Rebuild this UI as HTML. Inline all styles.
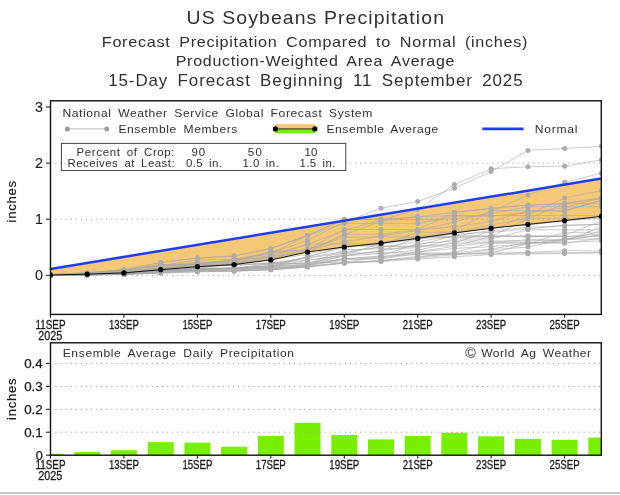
<!DOCTYPE html>
<html><head><meta charset="utf-8"><title>US Soybeans Precipitation</title>
<style>html,body{margin:0;padding:0;background:#fff}svg{display:block}</style>
</head><body>
<svg width="620" height="495" viewBox="0 0 620 495" font-family="'Liberation Sans', sans-serif">
<rect width="620" height="495" fill="#fff"/>
<text transform="translate(186.6,23.6) scale(1.08,1)" font-size="18.0" word-spacing="0.00" textLength="238.3" lengthAdjust="spacing" fill="#303030">US Soybeans Precipitation</text>
<text transform="translate(101.8,46.5) scale(1.08,1)" font-size="15.0" word-spacing="3.30" textLength="394.1" lengthAdjust="spacing" fill="#303030">Forecast Precipitation Compared to Normal (inches)</text>
<text transform="translate(175.7,66.1) scale(1.08,1)" font-size="14.8" word-spacing="3.26" textLength="258.1" lengthAdjust="spacing" fill="#303030">Production-Weighted Area Average</text>
<text transform="translate(108.2,86.3) scale(1.08,1)" font-size="15.7" word-spacing="3.45" textLength="383.7" lengthAdjust="spacing" fill="#303030">15-Day Forecast Beginning 11 September 2025</text>
<clipPath id="c1"><rect x="50.5" y="100.8" width="550.8" height="213.59999999999997"/></clipPath>
<g clip-path="url(#c1)">
<polygon fill="#f5c878" points="50.5,275.0 87.2,274.2 123.9,272.9 160.7,269.7 197.4,266.7 234.1,264.6 270.8,259.9 307.5,252.0 344.3,247.0 381.0,243.2 417.7,238.4 454.4,232.9 491.1,228.3 527.9,224.3 564.6,220.6 601.3,216.3 601.3,178.6 564.6,184.6 527.9,190.7 491.1,196.7 454.4,202.7 417.7,208.7 381.0,214.7 344.3,220.7 307.5,226.8 270.8,232.8 234.1,238.8 197.4,244.8 160.7,250.8 123.9,256.9 87.2,262.9 50.5,268.9"/>
<polyline fill="none" stroke="#a8a8a8" stroke-width="0.6" points="50.5,275.3 87.2,274.2 123.9,272.5 160.7,268.6 197.4,264.1 234.1,259.6 270.8,252.9 307.5,240.5 344.3,222.0 381.0,208.2 417.7,201.5 454.4,188.2 491.1,171.5 527.9,150.4 564.6,148.5 601.3,146.3"/>
<polyline fill="none" stroke="#a8a8a8" stroke-width="0.6" points="50.5,275.3 87.2,274.7 123.9,273.6 160.7,270.8 197.4,268.0 234.1,264.1 270.8,256.8 307.5,244.4 344.3,230.4 381.0,220.3 417.7,209.4 454.4,184.4 491.1,168.7 527.9,166.8 564.6,166.2 601.3,159.7"/>
<polyline fill="none" stroke="#a8a8a8" stroke-width="0.6" points="50.5,275.3 87.2,274.2 123.9,273.1 160.7,269.7 197.4,266.9 234.1,264.1 270.8,258.5 307.5,250.1 344.3,241.6 381.0,236.0 417.7,230.4 454.4,222.0 491.1,211.9 527.9,195.1 564.6,182.2 601.3,173.2"/>
<polyline fill="none" stroke="#a8a8a8" stroke-width="0.6" points="50.5,275.3 87.2,274.7 123.9,273.6 160.7,271.4 197.4,269.7 234.1,268.0 270.8,264.1 307.5,257.3 344.3,251.7 381.0,247.2 417.7,241.6 454.4,236.0 491.1,230.4 527.9,214.7 564.6,197.9 601.3,190.8"/>
<polyline fill="none" stroke="#a8a8a8" stroke-width="0.6" points="50.5,275.2 87.2,274.9 123.9,274.4 160.7,273.0 197.4,271.8 234.1,271.2 270.8,269.7 307.5,266.9 344.3,263.1 381.0,261.5 417.7,259.1 454.4,256.7 491.1,254.6 527.9,253.9 564.6,253.4 601.3,252.6"/>
<polyline fill="none" stroke="#a8a8a8" stroke-width="0.6" points="50.5,275.1 87.2,274.8 123.9,274.3 160.7,273.0 197.4,271.8 234.1,271.2 270.8,269.7 307.5,266.9 344.3,263.1 381.0,260.7 417.7,256.3 454.4,253.9 491.1,253.9 527.9,253.0 564.6,253.0 601.3,252.6"/>
<polyline fill="none" stroke="#a8a8a8" stroke-width="0.6" points="50.5,275.2 87.2,274.9 123.9,274.4 160.7,273.0 197.4,270.0 234.1,270.0 270.8,267.7 307.5,266.5 344.3,262.9 381.0,260.4 417.7,258.1 454.4,254.7 491.1,252.3 527.9,252.3 564.6,250.8 601.3,250.8"/>
<polyline fill="none" stroke="#a8a8a8" stroke-width="0.6" points="50.5,275.1 87.2,274.8 123.9,274.1 160.7,272.5 197.4,270.7 234.1,270.7 270.8,268.2 307.5,265.5 344.3,258.7 381.0,256.5 417.7,254.5 454.4,254.5 491.1,249.8 527.9,247.1 564.6,239.1 601.3,239.1"/>
<polyline fill="none" stroke="#a8a8a8" stroke-width="0.6" points="50.5,275.1 87.2,274.7 123.9,274.0 160.7,272.3 197.4,271.0 234.1,270.8 270.8,269.7 307.5,266.8 344.3,262.2 381.0,256.9 417.7,251.8 454.4,246.3 491.1,242.3 527.9,239.7 564.6,239.7 601.3,234.7"/>
<polyline fill="none" stroke="#a8a8a8" stroke-width="0.6" points="50.5,275.1 87.2,274.7 123.9,274.2 160.7,271.3 197.4,269.9 234.1,268.6 270.8,265.6 307.5,264.8 344.3,252.7 381.0,246.7 417.7,246.7 454.4,243.3 491.1,242.6 527.9,242.6 564.6,242.6 601.3,240.8"/>
<polyline fill="none" stroke="#a8a8a8" stroke-width="0.6" points="50.5,275.1 87.2,274.5 123.9,273.8 160.7,270.7 197.4,270.4 234.1,269.0 270.8,265.4 307.5,262.8 344.3,262.2 381.0,261.1 417.7,257.5 454.4,252.4 491.1,243.2 527.9,243.2 564.6,243.2 601.3,238.2"/>
<polyline fill="none" stroke="#a8a8a8" stroke-width="0.6" points="50.5,275.1 87.2,274.8 123.9,274.2 160.7,270.8 197.4,268.3 234.1,268.3 270.8,268.0 307.5,263.9 344.3,249.8 381.0,248.8 417.7,247.8 454.4,239.0 491.1,239.0 527.9,229.8 564.6,229.8 601.3,229.8"/>
<polyline fill="none" stroke="#a8a8a8" stroke-width="0.6" points="50.5,275.1 87.2,274.3 123.9,273.1 160.7,270.4 197.4,270.4 234.1,270.4 270.8,269.0 307.5,266.0 344.3,259.8 381.0,258.2 417.7,252.1 454.4,248.5 491.1,246.6 527.9,243.6 564.6,239.3 601.3,231.3"/>
<polyline fill="none" stroke="#a8a8a8" stroke-width="0.6" points="50.5,275.1 87.2,274.6 123.9,274.2 160.7,271.3 197.4,267.9 234.1,267.9 270.8,266.6 307.5,264.8 344.3,259.0 381.0,255.9 417.7,243.5 454.4,241.0 491.1,241.0 527.9,241.0 564.6,240.2 601.3,235.0"/>
<polyline fill="none" stroke="#a8a8a8" stroke-width="0.6" points="50.5,275.1 87.2,274.6 123.9,274.2 160.7,269.3 197.4,266.1 234.1,265.2 270.8,263.5 307.5,263.5 344.3,258.9 381.0,258.9 417.7,253.7 454.4,253.7 491.1,253.0 527.9,243.8 564.6,232.3 601.3,232.3"/>
<polyline fill="none" stroke="#a8a8a8" stroke-width="0.6" points="50.5,275.1 87.2,274.5 123.9,273.2 160.7,271.4 197.4,270.3 234.1,269.9 270.8,268.7 307.5,265.4 344.3,255.7 381.0,250.7 417.7,237.8 454.4,237.6 491.1,236.6 527.9,236.6 564.6,236.6 601.3,236.6"/>
<polyline fill="none" stroke="#a8a8a8" stroke-width="0.6" points="50.5,275.1 87.2,274.5 123.9,272.8 160.7,268.8 197.4,264.7 234.1,264.4 270.8,263.5 307.5,258.0 344.3,253.0 381.0,253.0 417.7,253.0 454.4,253.0 491.1,248.9 527.9,243.2 564.6,241.2 601.3,227.0"/>
<polyline fill="none" stroke="#a8a8a8" stroke-width="0.6" points="50.5,275.0 87.2,274.1 123.9,272.3 160.7,269.8 197.4,269.8 234.1,267.8 270.8,266.0 307.5,256.5 344.3,247.7 381.0,242.2 417.7,236.6 454.4,236.6 491.1,236.6 527.9,236.6 564.6,236.6 601.3,233.9"/>
<polyline fill="none" stroke="#a8a8a8" stroke-width="0.6" points="50.5,274.9 87.2,273.8 123.9,271.8 160.7,270.0 197.4,268.7 234.1,268.7 270.8,267.3 307.5,260.1 344.3,255.5 381.0,251.0 417.7,245.3 454.4,235.7 491.1,235.7 527.9,235.7 564.6,235.7 601.3,220.8"/>
<polyline fill="none" stroke="#a8a8a8" stroke-width="0.6" points="50.5,274.9 87.2,273.9 123.9,272.4 160.7,268.6 197.4,266.0 234.1,265.5 270.8,262.7 307.5,260.4 344.3,254.9 381.0,243.5 417.7,237.5 454.4,234.2 491.1,232.3 527.9,229.1 564.6,225.0 601.3,224.3"/>
<polyline fill="none" stroke="#a8a8a8" stroke-width="0.6" points="50.5,274.9 87.2,273.9 123.9,272.8 160.7,270.1 197.4,269.0 234.1,268.8 270.8,263.1 307.5,263.1 344.3,255.9 381.0,253.6 417.7,250.0 454.4,242.8 491.1,230.9 527.9,227.4 564.6,225.9 601.3,224.1"/>
<polyline fill="none" stroke="#a8a8a8" stroke-width="0.6" points="50.5,274.9 87.2,273.7 123.9,272.3 160.7,269.6 197.4,268.7 234.1,268.5 270.8,267.0 307.5,257.0 344.3,245.9 381.0,244.9 417.7,232.1 454.4,232.1 491.1,224.9 527.9,218.2 564.6,218.2 601.3,218.2"/>
<polyline fill="none" stroke="#a8a8a8" stroke-width="0.6" points="50.5,274.9 87.2,273.7 123.9,271.1 160.7,268.0 197.4,263.1 234.1,263.1 270.8,259.8 307.5,254.2 344.3,246.0 381.0,246.0 417.7,246.0 454.4,246.0 491.1,236.4 527.9,218.7 564.6,203.6 601.3,203.6"/>
<polyline fill="none" stroke="#a8a8a8" stroke-width="0.6" points="50.5,275.0 87.2,274.1 123.9,273.0 160.7,266.4 197.4,262.2 234.1,262.2 270.8,255.3 307.5,244.1 344.3,243.8 381.0,243.8 417.7,239.5 454.4,233.4 491.1,227.2 527.9,225.2 564.6,220.6 601.3,218.2"/>
<polyline fill="none" stroke="#a8a8a8" stroke-width="0.6" points="50.5,274.9 87.2,273.3 123.9,270.9 160.7,264.7 197.4,264.7 234.1,263.6 270.8,255.9 307.5,252.6 344.3,234.2 381.0,234.2 417.7,229.9 454.4,226.8 491.1,221.3 527.9,211.0 564.6,211.0 601.3,200.0"/>
<polyline fill="none" stroke="#a8a8a8" stroke-width="0.6" points="50.5,274.8 87.2,273.9 123.9,271.6 160.7,268.0 197.4,265.2 234.1,261.1 270.8,251.3 307.5,250.3 344.3,234.9 381.0,221.3 417.7,216.7 454.4,215.5 491.1,215.5 527.9,215.5 564.6,215.5 601.3,215.5"/>
<polyline fill="none" stroke="#a8a8a8" stroke-width="0.6" points="50.5,274.7 87.2,273.4 123.9,270.3 160.7,264.6 197.4,264.2 234.1,259.5 270.8,257.3 307.5,249.3 344.3,237.3 381.0,236.9 417.7,236.9 454.4,231.0 491.1,210.7 527.9,210.7 564.6,210.7 601.3,200.4"/>
<polyline fill="none" stroke="#a8a8a8" stroke-width="0.6" points="50.5,274.6 87.2,272.7 123.9,269.9 160.7,266.0 197.4,263.9 234.1,261.2 270.8,253.3 307.5,235.6 344.3,219.3 381.0,219.3 417.7,219.3 454.4,219.1 491.1,213.6 527.9,206.7 564.6,206.7 601.3,206.7"/>
<polyline fill="none" stroke="#a8a8a8" stroke-width="0.6" points="50.5,274.7 87.2,272.8 123.9,269.9 160.7,262.5 197.4,258.0 234.1,256.0 270.8,248.6 307.5,235.6 344.3,223.4 381.0,223.4 417.7,223.4 454.4,216.2 491.1,216.2 527.9,212.7 564.6,207.6 601.3,198.0"/>
<polyline fill="none" stroke="#a8a8a8" stroke-width="0.6" points="50.5,274.7 87.2,273.4 123.9,270.4 160.7,265.6 197.4,260.1 234.1,259.4 270.8,252.8 307.5,249.7 344.3,229.5 381.0,229.5 417.7,229.5 454.4,212.4 491.1,208.3 527.9,205.2 564.6,203.6 601.3,198.0"/>
<polyline fill="none" stroke="#a8a8a8" stroke-width="0.6" points="50.5,274.6 87.2,272.7 123.9,269.9 160.7,262.5 197.4,258.0 234.1,256.0 270.8,248.6 307.5,235.6 344.3,219.3 381.0,219.3 417.7,216.7 454.4,212.4 491.1,208.3 527.9,205.2 564.6,203.6 601.3,198.0"/>
<circle cx="50.5" cy="275.3" r="2.5" fill="#acacac"/>
<circle cx="87.2" cy="274.2" r="2.5" fill="#acacac"/>
<circle cx="123.9" cy="272.5" r="2.5" fill="#acacac"/>
<circle cx="160.7" cy="268.6" r="2.5" fill="#acacac"/>
<circle cx="197.4" cy="264.1" r="2.5" fill="#acacac"/>
<circle cx="234.1" cy="259.6" r="2.5" fill="#acacac"/>
<circle cx="270.8" cy="252.9" r="2.5" fill="#acacac"/>
<circle cx="307.5" cy="240.5" r="2.5" fill="#acacac"/>
<circle cx="344.3" cy="222.0" r="2.5" fill="#acacac"/>
<circle cx="381.0" cy="208.2" r="2.5" fill="#acacac"/>
<circle cx="417.7" cy="201.5" r="2.5" fill="#acacac"/>
<circle cx="454.4" cy="188.2" r="2.5" fill="#acacac"/>
<circle cx="491.1" cy="171.5" r="2.5" fill="#acacac"/>
<circle cx="527.9" cy="150.4" r="2.5" fill="#acacac"/>
<circle cx="564.6" cy="148.5" r="2.5" fill="#acacac"/>
<circle cx="601.3" cy="146.3" r="2.5" fill="#acacac"/>
<circle cx="50.5" cy="275.3" r="2.5" fill="#acacac"/>
<circle cx="87.2" cy="274.7" r="2.5" fill="#acacac"/>
<circle cx="123.9" cy="273.6" r="2.5" fill="#acacac"/>
<circle cx="160.7" cy="270.8" r="2.5" fill="#acacac"/>
<circle cx="197.4" cy="268.0" r="2.5" fill="#acacac"/>
<circle cx="234.1" cy="264.1" r="2.5" fill="#acacac"/>
<circle cx="270.8" cy="256.8" r="2.5" fill="#acacac"/>
<circle cx="307.5" cy="244.4" r="2.5" fill="#acacac"/>
<circle cx="344.3" cy="230.4" r="2.5" fill="#acacac"/>
<circle cx="381.0" cy="220.3" r="2.5" fill="#acacac"/>
<circle cx="417.7" cy="209.4" r="2.5" fill="#acacac"/>
<circle cx="454.4" cy="184.4" r="2.5" fill="#acacac"/>
<circle cx="491.1" cy="168.7" r="2.5" fill="#acacac"/>
<circle cx="527.9" cy="166.8" r="2.5" fill="#acacac"/>
<circle cx="564.6" cy="166.2" r="2.5" fill="#acacac"/>
<circle cx="601.3" cy="159.7" r="2.5" fill="#acacac"/>
<circle cx="50.5" cy="275.3" r="2.5" fill="#acacac"/>
<circle cx="87.2" cy="274.2" r="2.5" fill="#acacac"/>
<circle cx="123.9" cy="273.1" r="2.5" fill="#acacac"/>
<circle cx="160.7" cy="269.7" r="2.5" fill="#acacac"/>
<circle cx="197.4" cy="266.9" r="2.5" fill="#acacac"/>
<circle cx="234.1" cy="264.1" r="2.5" fill="#acacac"/>
<circle cx="270.8" cy="258.5" r="2.5" fill="#acacac"/>
<circle cx="307.5" cy="250.1" r="2.5" fill="#acacac"/>
<circle cx="344.3" cy="241.6" r="2.5" fill="#acacac"/>
<circle cx="381.0" cy="236.0" r="2.5" fill="#acacac"/>
<circle cx="417.7" cy="230.4" r="2.5" fill="#acacac"/>
<circle cx="454.4" cy="222.0" r="2.5" fill="#acacac"/>
<circle cx="491.1" cy="211.9" r="2.5" fill="#acacac"/>
<circle cx="527.9" cy="195.1" r="2.5" fill="#acacac"/>
<circle cx="564.6" cy="182.2" r="2.5" fill="#acacac"/>
<circle cx="601.3" cy="173.2" r="2.5" fill="#acacac"/>
<circle cx="50.5" cy="275.3" r="2.5" fill="#acacac"/>
<circle cx="87.2" cy="274.7" r="2.5" fill="#acacac"/>
<circle cx="123.9" cy="273.6" r="2.5" fill="#acacac"/>
<circle cx="160.7" cy="271.4" r="2.5" fill="#acacac"/>
<circle cx="197.4" cy="269.7" r="2.5" fill="#acacac"/>
<circle cx="234.1" cy="268.0" r="2.5" fill="#acacac"/>
<circle cx="270.8" cy="264.1" r="2.5" fill="#acacac"/>
<circle cx="307.5" cy="257.3" r="2.5" fill="#acacac"/>
<circle cx="344.3" cy="251.7" r="2.5" fill="#acacac"/>
<circle cx="381.0" cy="247.2" r="2.5" fill="#acacac"/>
<circle cx="417.7" cy="241.6" r="2.5" fill="#acacac"/>
<circle cx="454.4" cy="236.0" r="2.5" fill="#acacac"/>
<circle cx="491.1" cy="230.4" r="2.5" fill="#acacac"/>
<circle cx="527.9" cy="214.7" r="2.5" fill="#acacac"/>
<circle cx="564.6" cy="197.9" r="2.5" fill="#acacac"/>
<circle cx="601.3" cy="190.8" r="2.5" fill="#acacac"/>
<circle cx="50.5" cy="275.2" r="2.5" fill="#acacac"/>
<circle cx="87.2" cy="274.9" r="2.5" fill="#acacac"/>
<circle cx="123.9" cy="274.4" r="2.5" fill="#acacac"/>
<circle cx="160.7" cy="273.0" r="2.5" fill="#acacac"/>
<circle cx="197.4" cy="271.8" r="2.5" fill="#acacac"/>
<circle cx="234.1" cy="271.2" r="2.5" fill="#acacac"/>
<circle cx="270.8" cy="269.7" r="2.5" fill="#acacac"/>
<circle cx="307.5" cy="266.9" r="2.5" fill="#acacac"/>
<circle cx="344.3" cy="263.1" r="2.5" fill="#acacac"/>
<circle cx="381.0" cy="261.5" r="2.5" fill="#acacac"/>
<circle cx="417.7" cy="259.1" r="2.5" fill="#acacac"/>
<circle cx="454.4" cy="256.7" r="2.5" fill="#acacac"/>
<circle cx="491.1" cy="254.6" r="2.5" fill="#acacac"/>
<circle cx="527.9" cy="253.9" r="2.5" fill="#acacac"/>
<circle cx="564.6" cy="253.4" r="2.5" fill="#acacac"/>
<circle cx="601.3" cy="252.6" r="2.5" fill="#acacac"/>
<circle cx="50.5" cy="275.1" r="2.5" fill="#acacac"/>
<circle cx="87.2" cy="274.8" r="2.5" fill="#acacac"/>
<circle cx="123.9" cy="274.3" r="2.5" fill="#acacac"/>
<circle cx="160.7" cy="273.0" r="2.5" fill="#acacac"/>
<circle cx="197.4" cy="271.8" r="2.5" fill="#acacac"/>
<circle cx="234.1" cy="271.2" r="2.5" fill="#acacac"/>
<circle cx="270.8" cy="269.7" r="2.5" fill="#acacac"/>
<circle cx="307.5" cy="266.9" r="2.5" fill="#acacac"/>
<circle cx="344.3" cy="263.1" r="2.5" fill="#acacac"/>
<circle cx="381.0" cy="260.7" r="2.5" fill="#acacac"/>
<circle cx="417.7" cy="256.3" r="2.5" fill="#acacac"/>
<circle cx="454.4" cy="253.9" r="2.5" fill="#acacac"/>
<circle cx="491.1" cy="253.9" r="2.5" fill="#acacac"/>
<circle cx="527.9" cy="253.0" r="2.5" fill="#acacac"/>
<circle cx="564.6" cy="253.0" r="2.5" fill="#acacac"/>
<circle cx="601.3" cy="252.6" r="2.5" fill="#acacac"/>
<circle cx="50.5" cy="275.2" r="2.5" fill="#acacac"/>
<circle cx="87.2" cy="274.9" r="2.5" fill="#acacac"/>
<circle cx="123.9" cy="274.4" r="2.5" fill="#acacac"/>
<circle cx="160.7" cy="273.0" r="2.5" fill="#acacac"/>
<circle cx="197.4" cy="270.0" r="2.5" fill="#acacac"/>
<circle cx="234.1" cy="270.0" r="2.5" fill="#acacac"/>
<circle cx="270.8" cy="267.7" r="2.5" fill="#acacac"/>
<circle cx="307.5" cy="266.5" r="2.5" fill="#acacac"/>
<circle cx="344.3" cy="262.9" r="2.5" fill="#acacac"/>
<circle cx="381.0" cy="260.4" r="2.5" fill="#acacac"/>
<circle cx="417.7" cy="258.1" r="2.5" fill="#acacac"/>
<circle cx="454.4" cy="254.7" r="2.5" fill="#acacac"/>
<circle cx="491.1" cy="252.3" r="2.5" fill="#acacac"/>
<circle cx="527.9" cy="252.3" r="2.5" fill="#acacac"/>
<circle cx="564.6" cy="250.8" r="2.5" fill="#acacac"/>
<circle cx="601.3" cy="250.8" r="2.5" fill="#acacac"/>
<circle cx="50.5" cy="275.1" r="2.5" fill="#acacac"/>
<circle cx="87.2" cy="274.8" r="2.5" fill="#acacac"/>
<circle cx="123.9" cy="274.1" r="2.5" fill="#acacac"/>
<circle cx="160.7" cy="272.5" r="2.5" fill="#acacac"/>
<circle cx="197.4" cy="270.7" r="2.5" fill="#acacac"/>
<circle cx="234.1" cy="270.7" r="2.5" fill="#acacac"/>
<circle cx="270.8" cy="268.2" r="2.5" fill="#acacac"/>
<circle cx="307.5" cy="265.5" r="2.5" fill="#acacac"/>
<circle cx="344.3" cy="258.7" r="2.5" fill="#acacac"/>
<circle cx="381.0" cy="256.5" r="2.5" fill="#acacac"/>
<circle cx="417.7" cy="254.5" r="2.5" fill="#acacac"/>
<circle cx="454.4" cy="254.5" r="2.5" fill="#acacac"/>
<circle cx="491.1" cy="249.8" r="2.5" fill="#acacac"/>
<circle cx="527.9" cy="247.1" r="2.5" fill="#acacac"/>
<circle cx="564.6" cy="239.1" r="2.5" fill="#acacac"/>
<circle cx="601.3" cy="239.1" r="2.5" fill="#acacac"/>
<circle cx="50.5" cy="275.1" r="2.5" fill="#acacac"/>
<circle cx="87.2" cy="274.7" r="2.5" fill="#acacac"/>
<circle cx="123.9" cy="274.0" r="2.5" fill="#acacac"/>
<circle cx="160.7" cy="272.3" r="2.5" fill="#acacac"/>
<circle cx="197.4" cy="271.0" r="2.5" fill="#acacac"/>
<circle cx="234.1" cy="270.8" r="2.5" fill="#acacac"/>
<circle cx="270.8" cy="269.7" r="2.5" fill="#acacac"/>
<circle cx="307.5" cy="266.8" r="2.5" fill="#acacac"/>
<circle cx="344.3" cy="262.2" r="2.5" fill="#acacac"/>
<circle cx="381.0" cy="256.9" r="2.5" fill="#acacac"/>
<circle cx="417.7" cy="251.8" r="2.5" fill="#acacac"/>
<circle cx="454.4" cy="246.3" r="2.5" fill="#acacac"/>
<circle cx="491.1" cy="242.3" r="2.5" fill="#acacac"/>
<circle cx="527.9" cy="239.7" r="2.5" fill="#acacac"/>
<circle cx="564.6" cy="239.7" r="2.5" fill="#acacac"/>
<circle cx="601.3" cy="234.7" r="2.5" fill="#acacac"/>
<circle cx="50.5" cy="275.1" r="2.5" fill="#acacac"/>
<circle cx="87.2" cy="274.7" r="2.5" fill="#acacac"/>
<circle cx="123.9" cy="274.2" r="2.5" fill="#acacac"/>
<circle cx="160.7" cy="271.3" r="2.5" fill="#acacac"/>
<circle cx="197.4" cy="269.9" r="2.5" fill="#acacac"/>
<circle cx="234.1" cy="268.6" r="2.5" fill="#acacac"/>
<circle cx="270.8" cy="265.6" r="2.5" fill="#acacac"/>
<circle cx="307.5" cy="264.8" r="2.5" fill="#acacac"/>
<circle cx="344.3" cy="252.7" r="2.5" fill="#acacac"/>
<circle cx="381.0" cy="246.7" r="2.5" fill="#acacac"/>
<circle cx="417.7" cy="246.7" r="2.5" fill="#acacac"/>
<circle cx="454.4" cy="243.3" r="2.5" fill="#acacac"/>
<circle cx="491.1" cy="242.6" r="2.5" fill="#acacac"/>
<circle cx="527.9" cy="242.6" r="2.5" fill="#acacac"/>
<circle cx="564.6" cy="242.6" r="2.5" fill="#acacac"/>
<circle cx="601.3" cy="240.8" r="2.5" fill="#acacac"/>
<circle cx="50.5" cy="275.1" r="2.5" fill="#acacac"/>
<circle cx="87.2" cy="274.5" r="2.5" fill="#acacac"/>
<circle cx="123.9" cy="273.8" r="2.5" fill="#acacac"/>
<circle cx="160.7" cy="270.7" r="2.5" fill="#acacac"/>
<circle cx="197.4" cy="270.4" r="2.5" fill="#acacac"/>
<circle cx="234.1" cy="269.0" r="2.5" fill="#acacac"/>
<circle cx="270.8" cy="265.4" r="2.5" fill="#acacac"/>
<circle cx="307.5" cy="262.8" r="2.5" fill="#acacac"/>
<circle cx="344.3" cy="262.2" r="2.5" fill="#acacac"/>
<circle cx="381.0" cy="261.1" r="2.5" fill="#acacac"/>
<circle cx="417.7" cy="257.5" r="2.5" fill="#acacac"/>
<circle cx="454.4" cy="252.4" r="2.5" fill="#acacac"/>
<circle cx="491.1" cy="243.2" r="2.5" fill="#acacac"/>
<circle cx="527.9" cy="243.2" r="2.5" fill="#acacac"/>
<circle cx="564.6" cy="243.2" r="2.5" fill="#acacac"/>
<circle cx="601.3" cy="238.2" r="2.5" fill="#acacac"/>
<circle cx="50.5" cy="275.1" r="2.5" fill="#acacac"/>
<circle cx="87.2" cy="274.8" r="2.5" fill="#acacac"/>
<circle cx="123.9" cy="274.2" r="2.5" fill="#acacac"/>
<circle cx="160.7" cy="270.8" r="2.5" fill="#acacac"/>
<circle cx="197.4" cy="268.3" r="2.5" fill="#acacac"/>
<circle cx="234.1" cy="268.3" r="2.5" fill="#acacac"/>
<circle cx="270.8" cy="268.0" r="2.5" fill="#acacac"/>
<circle cx="307.5" cy="263.9" r="2.5" fill="#acacac"/>
<circle cx="344.3" cy="249.8" r="2.5" fill="#acacac"/>
<circle cx="381.0" cy="248.8" r="2.5" fill="#acacac"/>
<circle cx="417.7" cy="247.8" r="2.5" fill="#acacac"/>
<circle cx="454.4" cy="239.0" r="2.5" fill="#acacac"/>
<circle cx="491.1" cy="239.0" r="2.5" fill="#acacac"/>
<circle cx="527.9" cy="229.8" r="2.5" fill="#acacac"/>
<circle cx="564.6" cy="229.8" r="2.5" fill="#acacac"/>
<circle cx="601.3" cy="229.8" r="2.5" fill="#acacac"/>
<circle cx="50.5" cy="275.1" r="2.5" fill="#acacac"/>
<circle cx="87.2" cy="274.3" r="2.5" fill="#acacac"/>
<circle cx="123.9" cy="273.1" r="2.5" fill="#acacac"/>
<circle cx="160.7" cy="270.4" r="2.5" fill="#acacac"/>
<circle cx="197.4" cy="270.4" r="2.5" fill="#acacac"/>
<circle cx="234.1" cy="270.4" r="2.5" fill="#acacac"/>
<circle cx="270.8" cy="269.0" r="2.5" fill="#acacac"/>
<circle cx="307.5" cy="266.0" r="2.5" fill="#acacac"/>
<circle cx="344.3" cy="259.8" r="2.5" fill="#acacac"/>
<circle cx="381.0" cy="258.2" r="2.5" fill="#acacac"/>
<circle cx="417.7" cy="252.1" r="2.5" fill="#acacac"/>
<circle cx="454.4" cy="248.5" r="2.5" fill="#acacac"/>
<circle cx="491.1" cy="246.6" r="2.5" fill="#acacac"/>
<circle cx="527.9" cy="243.6" r="2.5" fill="#acacac"/>
<circle cx="564.6" cy="239.3" r="2.5" fill="#acacac"/>
<circle cx="601.3" cy="231.3" r="2.5" fill="#acacac"/>
<circle cx="50.5" cy="275.1" r="2.5" fill="#acacac"/>
<circle cx="87.2" cy="274.6" r="2.5" fill="#acacac"/>
<circle cx="123.9" cy="274.2" r="2.5" fill="#acacac"/>
<circle cx="160.7" cy="271.3" r="2.5" fill="#acacac"/>
<circle cx="197.4" cy="267.9" r="2.5" fill="#acacac"/>
<circle cx="234.1" cy="267.9" r="2.5" fill="#acacac"/>
<circle cx="270.8" cy="266.6" r="2.5" fill="#acacac"/>
<circle cx="307.5" cy="264.8" r="2.5" fill="#acacac"/>
<circle cx="344.3" cy="259.0" r="2.5" fill="#acacac"/>
<circle cx="381.0" cy="255.9" r="2.5" fill="#acacac"/>
<circle cx="417.7" cy="243.5" r="2.5" fill="#acacac"/>
<circle cx="454.4" cy="241.0" r="2.5" fill="#acacac"/>
<circle cx="491.1" cy="241.0" r="2.5" fill="#acacac"/>
<circle cx="527.9" cy="241.0" r="2.5" fill="#acacac"/>
<circle cx="564.6" cy="240.2" r="2.5" fill="#acacac"/>
<circle cx="601.3" cy="235.0" r="2.5" fill="#acacac"/>
<circle cx="50.5" cy="275.1" r="2.5" fill="#acacac"/>
<circle cx="87.2" cy="274.6" r="2.5" fill="#acacac"/>
<circle cx="123.9" cy="274.2" r="2.5" fill="#acacac"/>
<circle cx="160.7" cy="269.3" r="2.5" fill="#acacac"/>
<circle cx="197.4" cy="266.1" r="2.5" fill="#acacac"/>
<circle cx="234.1" cy="265.2" r="2.5" fill="#acacac"/>
<circle cx="270.8" cy="263.5" r="2.5" fill="#acacac"/>
<circle cx="307.5" cy="263.5" r="2.5" fill="#acacac"/>
<circle cx="344.3" cy="258.9" r="2.5" fill="#acacac"/>
<circle cx="381.0" cy="258.9" r="2.5" fill="#acacac"/>
<circle cx="417.7" cy="253.7" r="2.5" fill="#acacac"/>
<circle cx="454.4" cy="253.7" r="2.5" fill="#acacac"/>
<circle cx="491.1" cy="253.0" r="2.5" fill="#acacac"/>
<circle cx="527.9" cy="243.8" r="2.5" fill="#acacac"/>
<circle cx="564.6" cy="232.3" r="2.5" fill="#acacac"/>
<circle cx="601.3" cy="232.3" r="2.5" fill="#acacac"/>
<circle cx="50.5" cy="275.1" r="2.5" fill="#acacac"/>
<circle cx="87.2" cy="274.5" r="2.5" fill="#acacac"/>
<circle cx="123.9" cy="273.2" r="2.5" fill="#acacac"/>
<circle cx="160.7" cy="271.4" r="2.5" fill="#acacac"/>
<circle cx="197.4" cy="270.3" r="2.5" fill="#acacac"/>
<circle cx="234.1" cy="269.9" r="2.5" fill="#acacac"/>
<circle cx="270.8" cy="268.7" r="2.5" fill="#acacac"/>
<circle cx="307.5" cy="265.4" r="2.5" fill="#acacac"/>
<circle cx="344.3" cy="255.7" r="2.5" fill="#acacac"/>
<circle cx="381.0" cy="250.7" r="2.5" fill="#acacac"/>
<circle cx="417.7" cy="237.8" r="2.5" fill="#acacac"/>
<circle cx="454.4" cy="237.6" r="2.5" fill="#acacac"/>
<circle cx="491.1" cy="236.6" r="2.5" fill="#acacac"/>
<circle cx="527.9" cy="236.6" r="2.5" fill="#acacac"/>
<circle cx="564.6" cy="236.6" r="2.5" fill="#acacac"/>
<circle cx="601.3" cy="236.6" r="2.5" fill="#acacac"/>
<circle cx="50.5" cy="275.1" r="2.5" fill="#acacac"/>
<circle cx="87.2" cy="274.5" r="2.5" fill="#acacac"/>
<circle cx="123.9" cy="272.8" r="2.5" fill="#acacac"/>
<circle cx="160.7" cy="268.8" r="2.5" fill="#acacac"/>
<circle cx="197.4" cy="264.7" r="2.5" fill="#acacac"/>
<circle cx="234.1" cy="264.4" r="2.5" fill="#acacac"/>
<circle cx="270.8" cy="263.5" r="2.5" fill="#acacac"/>
<circle cx="307.5" cy="258.0" r="2.5" fill="#acacac"/>
<circle cx="344.3" cy="253.0" r="2.5" fill="#acacac"/>
<circle cx="381.0" cy="253.0" r="2.5" fill="#acacac"/>
<circle cx="417.7" cy="253.0" r="2.5" fill="#acacac"/>
<circle cx="454.4" cy="253.0" r="2.5" fill="#acacac"/>
<circle cx="491.1" cy="248.9" r="2.5" fill="#acacac"/>
<circle cx="527.9" cy="243.2" r="2.5" fill="#acacac"/>
<circle cx="564.6" cy="241.2" r="2.5" fill="#acacac"/>
<circle cx="601.3" cy="227.0" r="2.5" fill="#acacac"/>
<circle cx="50.5" cy="275.0" r="2.5" fill="#acacac"/>
<circle cx="87.2" cy="274.1" r="2.5" fill="#acacac"/>
<circle cx="123.9" cy="272.3" r="2.5" fill="#acacac"/>
<circle cx="160.7" cy="269.8" r="2.5" fill="#acacac"/>
<circle cx="197.4" cy="269.8" r="2.5" fill="#acacac"/>
<circle cx="234.1" cy="267.8" r="2.5" fill="#acacac"/>
<circle cx="270.8" cy="266.0" r="2.5" fill="#acacac"/>
<circle cx="307.5" cy="256.5" r="2.5" fill="#acacac"/>
<circle cx="344.3" cy="247.7" r="2.5" fill="#acacac"/>
<circle cx="381.0" cy="242.2" r="2.5" fill="#acacac"/>
<circle cx="417.7" cy="236.6" r="2.5" fill="#acacac"/>
<circle cx="454.4" cy="236.6" r="2.5" fill="#acacac"/>
<circle cx="491.1" cy="236.6" r="2.5" fill="#acacac"/>
<circle cx="527.9" cy="236.6" r="2.5" fill="#acacac"/>
<circle cx="564.6" cy="236.6" r="2.5" fill="#acacac"/>
<circle cx="601.3" cy="233.9" r="2.5" fill="#acacac"/>
<circle cx="50.5" cy="274.9" r="2.5" fill="#acacac"/>
<circle cx="87.2" cy="273.8" r="2.5" fill="#acacac"/>
<circle cx="123.9" cy="271.8" r="2.5" fill="#acacac"/>
<circle cx="160.7" cy="270.0" r="2.5" fill="#acacac"/>
<circle cx="197.4" cy="268.7" r="2.5" fill="#acacac"/>
<circle cx="234.1" cy="268.7" r="2.5" fill="#acacac"/>
<circle cx="270.8" cy="267.3" r="2.5" fill="#acacac"/>
<circle cx="307.5" cy="260.1" r="2.5" fill="#acacac"/>
<circle cx="344.3" cy="255.5" r="2.5" fill="#acacac"/>
<circle cx="381.0" cy="251.0" r="2.5" fill="#acacac"/>
<circle cx="417.7" cy="245.3" r="2.5" fill="#acacac"/>
<circle cx="454.4" cy="235.7" r="2.5" fill="#acacac"/>
<circle cx="491.1" cy="235.7" r="2.5" fill="#acacac"/>
<circle cx="527.9" cy="235.7" r="2.5" fill="#acacac"/>
<circle cx="564.6" cy="235.7" r="2.5" fill="#acacac"/>
<circle cx="601.3" cy="220.8" r="2.5" fill="#acacac"/>
<circle cx="50.5" cy="274.9" r="2.5" fill="#acacac"/>
<circle cx="87.2" cy="273.9" r="2.5" fill="#acacac"/>
<circle cx="123.9" cy="272.4" r="2.5" fill="#acacac"/>
<circle cx="160.7" cy="268.6" r="2.5" fill="#acacac"/>
<circle cx="197.4" cy="266.0" r="2.5" fill="#acacac"/>
<circle cx="234.1" cy="265.5" r="2.5" fill="#acacac"/>
<circle cx="270.8" cy="262.7" r="2.5" fill="#acacac"/>
<circle cx="307.5" cy="260.4" r="2.5" fill="#acacac"/>
<circle cx="344.3" cy="254.9" r="2.5" fill="#acacac"/>
<circle cx="381.0" cy="243.5" r="2.5" fill="#acacac"/>
<circle cx="417.7" cy="237.5" r="2.5" fill="#acacac"/>
<circle cx="454.4" cy="234.2" r="2.5" fill="#acacac"/>
<circle cx="491.1" cy="232.3" r="2.5" fill="#acacac"/>
<circle cx="527.9" cy="229.1" r="2.5" fill="#acacac"/>
<circle cx="564.6" cy="225.0" r="2.5" fill="#acacac"/>
<circle cx="601.3" cy="224.3" r="2.5" fill="#acacac"/>
<circle cx="50.5" cy="274.9" r="2.5" fill="#acacac"/>
<circle cx="87.2" cy="273.9" r="2.5" fill="#acacac"/>
<circle cx="123.9" cy="272.8" r="2.5" fill="#acacac"/>
<circle cx="160.7" cy="270.1" r="2.5" fill="#acacac"/>
<circle cx="197.4" cy="269.0" r="2.5" fill="#acacac"/>
<circle cx="234.1" cy="268.8" r="2.5" fill="#acacac"/>
<circle cx="270.8" cy="263.1" r="2.5" fill="#acacac"/>
<circle cx="307.5" cy="263.1" r="2.5" fill="#acacac"/>
<circle cx="344.3" cy="255.9" r="2.5" fill="#acacac"/>
<circle cx="381.0" cy="253.6" r="2.5" fill="#acacac"/>
<circle cx="417.7" cy="250.0" r="2.5" fill="#acacac"/>
<circle cx="454.4" cy="242.8" r="2.5" fill="#acacac"/>
<circle cx="491.1" cy="230.9" r="2.5" fill="#acacac"/>
<circle cx="527.9" cy="227.4" r="2.5" fill="#acacac"/>
<circle cx="564.6" cy="225.9" r="2.5" fill="#acacac"/>
<circle cx="601.3" cy="224.1" r="2.5" fill="#acacac"/>
<circle cx="50.5" cy="274.9" r="2.5" fill="#acacac"/>
<circle cx="87.2" cy="273.7" r="2.5" fill="#acacac"/>
<circle cx="123.9" cy="272.3" r="2.5" fill="#acacac"/>
<circle cx="160.7" cy="269.6" r="2.5" fill="#acacac"/>
<circle cx="197.4" cy="268.7" r="2.5" fill="#acacac"/>
<circle cx="234.1" cy="268.5" r="2.5" fill="#acacac"/>
<circle cx="270.8" cy="267.0" r="2.5" fill="#acacac"/>
<circle cx="307.5" cy="257.0" r="2.5" fill="#acacac"/>
<circle cx="344.3" cy="245.9" r="2.5" fill="#acacac"/>
<circle cx="381.0" cy="244.9" r="2.5" fill="#acacac"/>
<circle cx="417.7" cy="232.1" r="2.5" fill="#acacac"/>
<circle cx="454.4" cy="232.1" r="2.5" fill="#acacac"/>
<circle cx="491.1" cy="224.9" r="2.5" fill="#acacac"/>
<circle cx="527.9" cy="218.2" r="2.5" fill="#acacac"/>
<circle cx="564.6" cy="218.2" r="2.5" fill="#acacac"/>
<circle cx="601.3" cy="218.2" r="2.5" fill="#acacac"/>
<circle cx="50.5" cy="274.9" r="2.5" fill="#acacac"/>
<circle cx="87.2" cy="273.7" r="2.5" fill="#acacac"/>
<circle cx="123.9" cy="271.1" r="2.5" fill="#acacac"/>
<circle cx="160.7" cy="268.0" r="2.5" fill="#acacac"/>
<circle cx="197.4" cy="263.1" r="2.5" fill="#acacac"/>
<circle cx="234.1" cy="263.1" r="2.5" fill="#acacac"/>
<circle cx="270.8" cy="259.8" r="2.5" fill="#acacac"/>
<circle cx="307.5" cy="254.2" r="2.5" fill="#acacac"/>
<circle cx="344.3" cy="246.0" r="2.5" fill="#acacac"/>
<circle cx="381.0" cy="246.0" r="2.5" fill="#acacac"/>
<circle cx="417.7" cy="246.0" r="2.5" fill="#acacac"/>
<circle cx="454.4" cy="246.0" r="2.5" fill="#acacac"/>
<circle cx="491.1" cy="236.4" r="2.5" fill="#acacac"/>
<circle cx="527.9" cy="218.7" r="2.5" fill="#acacac"/>
<circle cx="564.6" cy="203.6" r="2.5" fill="#acacac"/>
<circle cx="601.3" cy="203.6" r="2.5" fill="#acacac"/>
<circle cx="50.5" cy="275.0" r="2.5" fill="#acacac"/>
<circle cx="87.2" cy="274.1" r="2.5" fill="#acacac"/>
<circle cx="123.9" cy="273.0" r="2.5" fill="#acacac"/>
<circle cx="160.7" cy="266.4" r="2.5" fill="#acacac"/>
<circle cx="197.4" cy="262.2" r="2.5" fill="#acacac"/>
<circle cx="234.1" cy="262.2" r="2.5" fill="#acacac"/>
<circle cx="270.8" cy="255.3" r="2.5" fill="#acacac"/>
<circle cx="307.5" cy="244.1" r="2.5" fill="#acacac"/>
<circle cx="344.3" cy="243.8" r="2.5" fill="#acacac"/>
<circle cx="381.0" cy="243.8" r="2.5" fill="#acacac"/>
<circle cx="417.7" cy="239.5" r="2.5" fill="#acacac"/>
<circle cx="454.4" cy="233.4" r="2.5" fill="#acacac"/>
<circle cx="491.1" cy="227.2" r="2.5" fill="#acacac"/>
<circle cx="527.9" cy="225.2" r="2.5" fill="#acacac"/>
<circle cx="564.6" cy="220.6" r="2.5" fill="#acacac"/>
<circle cx="601.3" cy="218.2" r="2.5" fill="#acacac"/>
<circle cx="50.5" cy="274.9" r="2.5" fill="#acacac"/>
<circle cx="87.2" cy="273.3" r="2.5" fill="#acacac"/>
<circle cx="123.9" cy="270.9" r="2.5" fill="#acacac"/>
<circle cx="160.7" cy="264.7" r="2.5" fill="#acacac"/>
<circle cx="197.4" cy="264.7" r="2.5" fill="#acacac"/>
<circle cx="234.1" cy="263.6" r="2.5" fill="#acacac"/>
<circle cx="270.8" cy="255.9" r="2.5" fill="#acacac"/>
<circle cx="307.5" cy="252.6" r="2.5" fill="#acacac"/>
<circle cx="344.3" cy="234.2" r="2.5" fill="#acacac"/>
<circle cx="381.0" cy="234.2" r="2.5" fill="#acacac"/>
<circle cx="417.7" cy="229.9" r="2.5" fill="#acacac"/>
<circle cx="454.4" cy="226.8" r="2.5" fill="#acacac"/>
<circle cx="491.1" cy="221.3" r="2.5" fill="#acacac"/>
<circle cx="527.9" cy="211.0" r="2.5" fill="#acacac"/>
<circle cx="564.6" cy="211.0" r="2.5" fill="#acacac"/>
<circle cx="601.3" cy="200.0" r="2.5" fill="#acacac"/>
<circle cx="50.5" cy="274.8" r="2.5" fill="#acacac"/>
<circle cx="87.2" cy="273.9" r="2.5" fill="#acacac"/>
<circle cx="123.9" cy="271.6" r="2.5" fill="#acacac"/>
<circle cx="160.7" cy="268.0" r="2.5" fill="#acacac"/>
<circle cx="197.4" cy="265.2" r="2.5" fill="#acacac"/>
<circle cx="234.1" cy="261.1" r="2.5" fill="#acacac"/>
<circle cx="270.8" cy="251.3" r="2.5" fill="#acacac"/>
<circle cx="307.5" cy="250.3" r="2.5" fill="#acacac"/>
<circle cx="344.3" cy="234.9" r="2.5" fill="#acacac"/>
<circle cx="381.0" cy="221.3" r="2.5" fill="#acacac"/>
<circle cx="417.7" cy="216.7" r="2.5" fill="#acacac"/>
<circle cx="454.4" cy="215.5" r="2.5" fill="#acacac"/>
<circle cx="491.1" cy="215.5" r="2.5" fill="#acacac"/>
<circle cx="527.9" cy="215.5" r="2.5" fill="#acacac"/>
<circle cx="564.6" cy="215.5" r="2.5" fill="#acacac"/>
<circle cx="601.3" cy="215.5" r="2.5" fill="#acacac"/>
<circle cx="50.5" cy="274.7" r="2.5" fill="#acacac"/>
<circle cx="87.2" cy="273.4" r="2.5" fill="#acacac"/>
<circle cx="123.9" cy="270.3" r="2.5" fill="#acacac"/>
<circle cx="160.7" cy="264.6" r="2.5" fill="#acacac"/>
<circle cx="197.4" cy="264.2" r="2.5" fill="#acacac"/>
<circle cx="234.1" cy="259.5" r="2.5" fill="#acacac"/>
<circle cx="270.8" cy="257.3" r="2.5" fill="#acacac"/>
<circle cx="307.5" cy="249.3" r="2.5" fill="#acacac"/>
<circle cx="344.3" cy="237.3" r="2.5" fill="#acacac"/>
<circle cx="381.0" cy="236.9" r="2.5" fill="#acacac"/>
<circle cx="417.7" cy="236.9" r="2.5" fill="#acacac"/>
<circle cx="454.4" cy="231.0" r="2.5" fill="#acacac"/>
<circle cx="491.1" cy="210.7" r="2.5" fill="#acacac"/>
<circle cx="527.9" cy="210.7" r="2.5" fill="#acacac"/>
<circle cx="564.6" cy="210.7" r="2.5" fill="#acacac"/>
<circle cx="601.3" cy="200.4" r="2.5" fill="#acacac"/>
<circle cx="50.5" cy="274.6" r="2.5" fill="#acacac"/>
<circle cx="87.2" cy="272.7" r="2.5" fill="#acacac"/>
<circle cx="123.9" cy="269.9" r="2.5" fill="#acacac"/>
<circle cx="160.7" cy="266.0" r="2.5" fill="#acacac"/>
<circle cx="197.4" cy="263.9" r="2.5" fill="#acacac"/>
<circle cx="234.1" cy="261.2" r="2.5" fill="#acacac"/>
<circle cx="270.8" cy="253.3" r="2.5" fill="#acacac"/>
<circle cx="307.5" cy="235.6" r="2.5" fill="#acacac"/>
<circle cx="344.3" cy="219.3" r="2.5" fill="#acacac"/>
<circle cx="381.0" cy="219.3" r="2.5" fill="#acacac"/>
<circle cx="417.7" cy="219.3" r="2.5" fill="#acacac"/>
<circle cx="454.4" cy="219.1" r="2.5" fill="#acacac"/>
<circle cx="491.1" cy="213.6" r="2.5" fill="#acacac"/>
<circle cx="527.9" cy="206.7" r="2.5" fill="#acacac"/>
<circle cx="564.6" cy="206.7" r="2.5" fill="#acacac"/>
<circle cx="601.3" cy="206.7" r="2.5" fill="#acacac"/>
<circle cx="50.5" cy="274.7" r="2.5" fill="#acacac"/>
<circle cx="87.2" cy="272.8" r="2.5" fill="#acacac"/>
<circle cx="123.9" cy="269.9" r="2.5" fill="#acacac"/>
<circle cx="160.7" cy="262.5" r="2.5" fill="#acacac"/>
<circle cx="197.4" cy="258.0" r="2.5" fill="#acacac"/>
<circle cx="234.1" cy="256.0" r="2.5" fill="#acacac"/>
<circle cx="270.8" cy="248.6" r="2.5" fill="#acacac"/>
<circle cx="307.5" cy="235.6" r="2.5" fill="#acacac"/>
<circle cx="344.3" cy="223.4" r="2.5" fill="#acacac"/>
<circle cx="381.0" cy="223.4" r="2.5" fill="#acacac"/>
<circle cx="417.7" cy="223.4" r="2.5" fill="#acacac"/>
<circle cx="454.4" cy="216.2" r="2.5" fill="#acacac"/>
<circle cx="491.1" cy="216.2" r="2.5" fill="#acacac"/>
<circle cx="527.9" cy="212.7" r="2.5" fill="#acacac"/>
<circle cx="564.6" cy="207.6" r="2.5" fill="#acacac"/>
<circle cx="601.3" cy="198.0" r="2.5" fill="#acacac"/>
<circle cx="50.5" cy="274.7" r="2.5" fill="#acacac"/>
<circle cx="87.2" cy="273.4" r="2.5" fill="#acacac"/>
<circle cx="123.9" cy="270.4" r="2.5" fill="#acacac"/>
<circle cx="160.7" cy="265.6" r="2.5" fill="#acacac"/>
<circle cx="197.4" cy="260.1" r="2.5" fill="#acacac"/>
<circle cx="234.1" cy="259.4" r="2.5" fill="#acacac"/>
<circle cx="270.8" cy="252.8" r="2.5" fill="#acacac"/>
<circle cx="307.5" cy="249.7" r="2.5" fill="#acacac"/>
<circle cx="344.3" cy="229.5" r="2.5" fill="#acacac"/>
<circle cx="381.0" cy="229.5" r="2.5" fill="#acacac"/>
<circle cx="417.7" cy="229.5" r="2.5" fill="#acacac"/>
<circle cx="454.4" cy="212.4" r="2.5" fill="#acacac"/>
<circle cx="491.1" cy="208.3" r="2.5" fill="#acacac"/>
<circle cx="527.9" cy="205.2" r="2.5" fill="#acacac"/>
<circle cx="564.6" cy="203.6" r="2.5" fill="#acacac"/>
<circle cx="601.3" cy="198.0" r="2.5" fill="#acacac"/>
<circle cx="50.5" cy="274.6" r="2.5" fill="#acacac"/>
<circle cx="87.2" cy="272.7" r="2.5" fill="#acacac"/>
<circle cx="123.9" cy="269.9" r="2.5" fill="#acacac"/>
<circle cx="160.7" cy="262.5" r="2.5" fill="#acacac"/>
<circle cx="197.4" cy="258.0" r="2.5" fill="#acacac"/>
<circle cx="234.1" cy="256.0" r="2.5" fill="#acacac"/>
<circle cx="270.8" cy="248.6" r="2.5" fill="#acacac"/>
<circle cx="307.5" cy="235.6" r="2.5" fill="#acacac"/>
<circle cx="344.3" cy="219.3" r="2.5" fill="#acacac"/>
<circle cx="381.0" cy="219.3" r="2.5" fill="#acacac"/>
<circle cx="417.7" cy="216.7" r="2.5" fill="#acacac"/>
<circle cx="454.4" cy="212.4" r="2.5" fill="#acacac"/>
<circle cx="491.1" cy="208.3" r="2.5" fill="#acacac"/>
<circle cx="527.9" cy="205.2" r="2.5" fill="#acacac"/>
<circle cx="564.6" cy="203.6" r="2.5" fill="#acacac"/>
<circle cx="601.3" cy="198.0" r="2.5" fill="#acacac"/>
</g>
<line x1="55.2" x2="601.3" y1="275.3" y2="275.3" stroke="#a4a4a4" stroke-width="1" stroke-dasharray="1.3 3.78"/>
<line x1="55.2" x2="601.3" y1="219.2" y2="219.2" stroke="#a4a4a4" stroke-width="1" stroke-dasharray="1.3 3.78"/>
<line x1="55.2" x2="601.3" y1="163.1" y2="163.1" stroke="#a4a4a4" stroke-width="1" stroke-dasharray="1.3 3.78"/>
<line x1="50.5" y1="268.9" x2="601.3" y2="178.6" stroke="#1e3cf5" stroke-width="2.5" clip-path="url(#c1)"/>
<g clip-path="url(#c1)">
<polyline fill="none" stroke="#000" stroke-width="0.9" points="50.5,275.0 87.2,274.2 123.9,272.9 160.7,269.7 197.4,266.7 234.1,264.6 270.8,259.9 307.5,252.0 344.3,247.0 381.0,243.2 417.7,238.4 454.4,232.9 491.1,228.3 527.9,224.3 564.6,220.6 601.3,216.3"/>
<circle cx="50.5" cy="275.0" r="2.6" fill="#000"/>
<circle cx="87.2" cy="274.2" r="2.6" fill="#000"/>
<circle cx="123.9" cy="272.9" r="2.6" fill="#000"/>
<circle cx="160.7" cy="269.7" r="2.6" fill="#000"/>
<circle cx="197.4" cy="266.7" r="2.6" fill="#000"/>
<circle cx="234.1" cy="264.6" r="2.6" fill="#000"/>
<circle cx="270.8" cy="259.9" r="2.6" fill="#000"/>
<circle cx="307.5" cy="252.0" r="2.6" fill="#000"/>
<circle cx="344.3" cy="247.0" r="2.6" fill="#000"/>
<circle cx="381.0" cy="243.2" r="2.6" fill="#000"/>
<circle cx="417.7" cy="238.4" r="2.6" fill="#000"/>
<circle cx="454.4" cy="232.9" r="2.6" fill="#000"/>
<circle cx="491.1" cy="228.3" r="2.6" fill="#000"/>
<circle cx="527.9" cy="224.3" r="2.6" fill="#000"/>
<circle cx="564.6" cy="220.6" r="2.6" fill="#000"/>
<circle cx="601.3" cy="216.3" r="2.6" fill="#000"/>
</g>
<text transform="translate(62.4,117.1) scale(1.08,1)" font-size="11.2" word-spacing="2.46" textLength="286.9" lengthAdjust="spacing" fill="#303030">National Weather Service Global Forecast System</text>
<line x1="67.3" x2="106.8" y1="128.9" y2="128.9" stroke="#a8a8a8" stroke-width="0.8"/>
<circle cx="67.3" cy="128.9" r="2.5" fill="#9c9c9c"/><circle cx="106.8" cy="128.9" r="2.5" fill="#9c9c9c"/>
<text transform="translate(118.4,133.0) scale(1.08,1)" font-size="11.2" word-spacing="2.46" textLength="110.2" lengthAdjust="spacing" fill="#303030">Ensemble Members</text>
<rect x="275.4" y="124.1" width="39.4" height="4.8" fill="#f5c878"/>
<rect x="275.4" y="128.9" width="39.4" height="4.5" fill="#78ee00"/>
<line x1="275.4" x2="314.8" y1="128.9" y2="128.9" stroke="#000" stroke-width="0.8"/>
<circle cx="275.4" cy="128.9" r="2.6" fill="#000"/><circle cx="314.8" cy="128.9" r="2.6" fill="#000"/>
<text transform="translate(326.5,133.0) scale(1.08,1)" font-size="11.2" word-spacing="2.46" textLength="103.5" lengthAdjust="spacing" fill="#303030">Ensemble Average</text>
<line x1="482.3" x2="523.6" y1="128.8" y2="128.8" stroke="#1e3cf5" stroke-width="2.8"/>
<text transform="translate(534.8,133.0) scale(1.08,1)" font-size="11.2" word-spacing="2.46" textLength="39.5" lengthAdjust="spacing" fill="#303030">Normal</text>
<rect x="61.4" y="143.4" width="284.4" height="27.1" fill="#fff" stroke="#444" stroke-width="1"/>
<text transform="translate(76.6,155.5) scale(1.08,1)" font-size="10.6" word-spacing="2.33" textLength="90.7" lengthAdjust="spacing" fill="#303030">Percent of Crop:</text>
<text transform="translate(67.5,166.8) scale(1.08,1)" font-size="10.6" word-spacing="2.33" textLength="99.2" lengthAdjust="spacing" fill="#303030">Receives at Least:</text>
<text transform="translate(191.4,155.5) scale(1.08,1)" font-size="10.6" word-spacing="2.33" textLength="12.6" lengthAdjust="spacing" fill="#303030">90</text>
<text transform="translate(186.0,166.8) scale(1.08,1)" font-size="10.6" word-spacing="2.33" textLength="33.3" lengthAdjust="spacing" fill="#303030">0.5 in.</text>
<text transform="translate(247.7,155.5) scale(1.08,1)" font-size="10.6" word-spacing="2.33" textLength="13.2" lengthAdjust="spacing" fill="#303030">50</text>
<text transform="translate(242.6,166.8) scale(1.08,1)" font-size="10.6" word-spacing="2.33" textLength="33.4" lengthAdjust="spacing" fill="#303030">1.0 in.</text>
<text transform="translate(304.5,155.5) scale(1.08,1)" font-size="10.6" word-spacing="2.33" textLength="11.9" lengthAdjust="spacing" fill="#303030">10</text>
<text transform="translate(299.4,166.8) scale(1.08,1)" font-size="10.6" word-spacing="2.33" textLength="33.4" lengthAdjust="spacing" fill="#303030">1.5 in.</text>
<rect x="50.5" y="100.8" width="550.8" height="213.59999999999997" fill="none" stroke="#111" stroke-width="1.4"/>
<line x1="46.0" x2="50.5" y1="275.3" y2="275.3" stroke="#111" stroke-width="1"/>
<text x="43.0" y="280.4" font-size="14.3" text-anchor="end" fill="#1a1a1a" stroke="#1a1a1a" stroke-width="0.1">0</text>
<line x1="46.0" x2="50.5" y1="219.2" y2="219.2" stroke="#111" stroke-width="1"/>
<text x="43.0" y="224.3" font-size="14.3" text-anchor="end" fill="#1a1a1a" stroke="#1a1a1a" stroke-width="0.1">1</text>
<line x1="46.0" x2="50.5" y1="163.1" y2="163.1" stroke="#111" stroke-width="1"/>
<text x="43.0" y="168.2" font-size="14.3" text-anchor="end" fill="#1a1a1a" stroke="#1a1a1a" stroke-width="0.1">2</text>
<line x1="46.0" x2="50.5" y1="107.0" y2="107.0" stroke="#111" stroke-width="1"/>
<text x="43.0" y="112.1" font-size="14.3" text-anchor="end" fill="#1a1a1a" stroke="#1a1a1a" stroke-width="0.1">3</text>
<line x1="50.5" x2="50.5" y1="314.4" y2="317.8" stroke="#111" stroke-width="1"/>
<text x="35.5" y="328.8" font-size="12.0" textLength="30.0" lengthAdjust="spacingAndGlyphs" fill="#1a1a1a" stroke="#1a1a1a" stroke-width="0.3">11SEP</text>
<line x1="123.9" x2="123.9" y1="314.4" y2="317.8" stroke="#111" stroke-width="1"/>
<text x="108.9" y="328.8" font-size="12.0" textLength="30.0" lengthAdjust="spacingAndGlyphs" fill="#1a1a1a" stroke="#1a1a1a" stroke-width="0.3">13SEP</text>
<line x1="197.4" x2="197.4" y1="314.4" y2="317.8" stroke="#111" stroke-width="1"/>
<text x="182.4" y="328.8" font-size="12.0" textLength="30.0" lengthAdjust="spacingAndGlyphs" fill="#1a1a1a" stroke="#1a1a1a" stroke-width="0.3">15SEP</text>
<line x1="270.8" x2="270.8" y1="314.4" y2="317.8" stroke="#111" stroke-width="1"/>
<text x="255.8" y="328.8" font-size="12.0" textLength="30.0" lengthAdjust="spacingAndGlyphs" fill="#1a1a1a" stroke="#1a1a1a" stroke-width="0.3">17SEP</text>
<line x1="344.3" x2="344.3" y1="314.4" y2="317.8" stroke="#111" stroke-width="1"/>
<text x="329.3" y="328.8" font-size="12.0" textLength="30.0" lengthAdjust="spacingAndGlyphs" fill="#1a1a1a" stroke="#1a1a1a" stroke-width="0.3">19SEP</text>
<line x1="417.7" x2="417.7" y1="314.4" y2="317.8" stroke="#111" stroke-width="1"/>
<text x="402.7" y="328.8" font-size="12.0" textLength="30.0" lengthAdjust="spacingAndGlyphs" fill="#1a1a1a" stroke="#1a1a1a" stroke-width="0.3">21SEP</text>
<line x1="491.1" x2="491.1" y1="314.4" y2="317.8" stroke="#111" stroke-width="1"/>
<text x="476.1" y="328.8" font-size="12.0" textLength="30.0" lengthAdjust="spacingAndGlyphs" fill="#1a1a1a" stroke="#1a1a1a" stroke-width="0.3">23SEP</text>
<line x1="564.6" x2="564.6" y1="314.4" y2="317.8" stroke="#111" stroke-width="1"/>
<text x="549.6" y="328.8" font-size="12.0" textLength="30.0" lengthAdjust="spacingAndGlyphs" fill="#1a1a1a" stroke="#1a1a1a" stroke-width="0.3">25SEP</text>
<text x="38.3" y="339.9" font-size="12.0" textLength="24.1" lengthAdjust="spacingAndGlyphs" fill="#1a1a1a" stroke="#1a1a1a" stroke-width="0.3">2025</text>
<text transform="translate(16.3,202.0) rotate(-90)" y="0" x="-20.4" font-size="13" textLength="41.3" lengthAdjust="spacing" fill="#1a1a1a" stroke="#1a1a1a" stroke-width="0.2">inches</text>
<clipPath id="c2"><rect x="50.5" y="342.8" width="550.8" height="112.39999999999998"/></clipPath>
<g clip-path="url(#c2)">
<rect x="37.5" y="453.8" width="26" height="1.4" fill="#78ee00"/>
<rect x="74.2" y="452.0" width="26" height="3.2" fill="#78ee00"/>
<rect x="110.9" y="450.2" width="26" height="5.0" fill="#78ee00"/>
<rect x="147.7" y="442.1" width="26" height="13.1" fill="#78ee00"/>
<rect x="184.4" y="442.6" width="26" height="12.6" fill="#78ee00"/>
<rect x="221.1" y="446.7" width="26" height="8.5" fill="#78ee00"/>
<rect x="257.8" y="435.9" width="26" height="19.3" fill="#78ee00"/>
<rect x="294.5" y="422.8" width="26" height="32.4" fill="#78ee00"/>
<rect x="331.3" y="435.0" width="26" height="20.2" fill="#78ee00"/>
<rect x="368.0" y="439.4" width="26" height="15.8" fill="#78ee00"/>
<rect x="404.7" y="435.9" width="26" height="19.3" fill="#78ee00"/>
<rect x="441.4" y="432.7" width="26" height="22.5" fill="#78ee00"/>
<rect x="478.1" y="436.3" width="26" height="18.9" fill="#78ee00"/>
<rect x="514.9" y="438.9" width="26" height="16.3" fill="#78ee00"/>
<rect x="551.6" y="439.8" width="26" height="15.4" fill="#78ee00"/>
<rect x="588.3" y="437.6" width="26" height="17.6" fill="#78ee00"/>
</g>
<line x1="55.2" x2="601.3" y1="432.2" y2="432.2" stroke="#a4a4a4" stroke-width="1" stroke-dasharray="1.3 3.78"/>
<line x1="55.2" x2="601.3" y1="409.3" y2="409.3" stroke="#a4a4a4" stroke-width="1" stroke-dasharray="1.3 3.78"/>
<line x1="55.2" x2="601.3" y1="386.4" y2="386.4" stroke="#a4a4a4" stroke-width="1" stroke-dasharray="1.3 3.78"/>
<line x1="55.2" x2="601.3" y1="363.4" y2="363.4" stroke="#a4a4a4" stroke-width="1" stroke-dasharray="1.3 3.78"/>
<rect x="50.5" y="342.8" width="550.8" height="112.39999999999998" fill="none" stroke="#111" stroke-width="1.4"/>
<line x1="46" x2="50.5" y1="455.2" y2="455.2" stroke="#111" stroke-width="1"/>
<text x="42.8" y="459.7" font-size="12.6" text-anchor="end" fill="#1a1a1a" stroke="#1a1a1a" stroke-width="0.25">0</text>
<line x1="46" x2="50.5" y1="432.2" y2="432.2" stroke="#111" stroke-width="1"/>
<text x="24.2" y="436.8" font-size="12.6" textLength="18.6" lengthAdjust="spacingAndGlyphs" fill="#1a1a1a" stroke="#1a1a1a" stroke-width="0.25">0.1</text>
<line x1="46" x2="50.5" y1="409.3" y2="409.3" stroke="#111" stroke-width="1"/>
<text x="24.2" y="413.8" font-size="12.6" textLength="18.6" lengthAdjust="spacingAndGlyphs" fill="#1a1a1a" stroke="#1a1a1a" stroke-width="0.25">0.2</text>
<line x1="46" x2="50.5" y1="386.4" y2="386.4" stroke="#111" stroke-width="1"/>
<text x="24.2" y="390.9" font-size="12.6" textLength="18.6" lengthAdjust="spacingAndGlyphs" fill="#1a1a1a" stroke="#1a1a1a" stroke-width="0.25">0.3</text>
<line x1="46" x2="50.5" y1="363.4" y2="363.4" stroke="#111" stroke-width="1"/>
<text x="24.2" y="367.9" font-size="12.6" textLength="18.6" lengthAdjust="spacingAndGlyphs" fill="#1a1a1a" stroke="#1a1a1a" stroke-width="0.25">0.4</text>
<line x1="50.5" x2="50.5" y1="455.2" y2="458.6" stroke="#111" stroke-width="1"/>
<text x="35.5" y="469.3" font-size="12.0" textLength="30.0" lengthAdjust="spacingAndGlyphs" fill="#1a1a1a" stroke="#1a1a1a" stroke-width="0.3">11SEP</text>
<line x1="123.9" x2="123.9" y1="455.2" y2="458.6" stroke="#111" stroke-width="1"/>
<text x="108.9" y="469.3" font-size="12.0" textLength="30.0" lengthAdjust="spacingAndGlyphs" fill="#1a1a1a" stroke="#1a1a1a" stroke-width="0.3">13SEP</text>
<line x1="197.4" x2="197.4" y1="455.2" y2="458.6" stroke="#111" stroke-width="1"/>
<text x="182.4" y="469.3" font-size="12.0" textLength="30.0" lengthAdjust="spacingAndGlyphs" fill="#1a1a1a" stroke="#1a1a1a" stroke-width="0.3">15SEP</text>
<line x1="270.8" x2="270.8" y1="455.2" y2="458.6" stroke="#111" stroke-width="1"/>
<text x="255.8" y="469.3" font-size="12.0" textLength="30.0" lengthAdjust="spacingAndGlyphs" fill="#1a1a1a" stroke="#1a1a1a" stroke-width="0.3">17SEP</text>
<line x1="344.3" x2="344.3" y1="455.2" y2="458.6" stroke="#111" stroke-width="1"/>
<text x="329.3" y="469.3" font-size="12.0" textLength="30.0" lengthAdjust="spacingAndGlyphs" fill="#1a1a1a" stroke="#1a1a1a" stroke-width="0.3">19SEP</text>
<line x1="417.7" x2="417.7" y1="455.2" y2="458.6" stroke="#111" stroke-width="1"/>
<text x="402.7" y="469.3" font-size="12.0" textLength="30.0" lengthAdjust="spacingAndGlyphs" fill="#1a1a1a" stroke="#1a1a1a" stroke-width="0.3">21SEP</text>
<line x1="491.1" x2="491.1" y1="455.2" y2="458.6" stroke="#111" stroke-width="1"/>
<text x="476.1" y="469.3" font-size="12.0" textLength="30.0" lengthAdjust="spacingAndGlyphs" fill="#1a1a1a" stroke="#1a1a1a" stroke-width="0.3">23SEP</text>
<line x1="564.6" x2="564.6" y1="455.2" y2="458.6" stroke="#111" stroke-width="1"/>
<text x="549.6" y="469.3" font-size="12.0" textLength="30.0" lengthAdjust="spacingAndGlyphs" fill="#1a1a1a" stroke="#1a1a1a" stroke-width="0.3">25SEP</text>
<text x="38.3" y="480.4" font-size="12.0" textLength="24.1" lengthAdjust="spacingAndGlyphs" fill="#1a1a1a" stroke="#1a1a1a" stroke-width="0.3">2025</text>
<text transform="translate(16.3,399.5) rotate(-90)" y="0" x="-20.4" font-size="13" textLength="41.3" lengthAdjust="spacing" fill="#1a1a1a" stroke="#1a1a1a" stroke-width="0.2">inches</text>
<text transform="translate(62.7,357.2) scale(1.08,1)" font-size="11.2" word-spacing="2.46" textLength="214.2" lengthAdjust="spacing" fill="#303030">Ensemble Average Daily Precipitation</text>
<text x="465.2" y="357.6" font-size="14.2" fill="#2b2b2b">©</text>
<text transform="translate(481.2,357.2) scale(1.08,1)" font-size="11.2" word-spacing="2.46" textLength="101.7" lengthAdjust="spacing" fill="#303030">World Ag Weather</text>
<rect x="0" y="492" width="620" height="2" fill="#c6c6c6"/>
</svg>
</body></html>
